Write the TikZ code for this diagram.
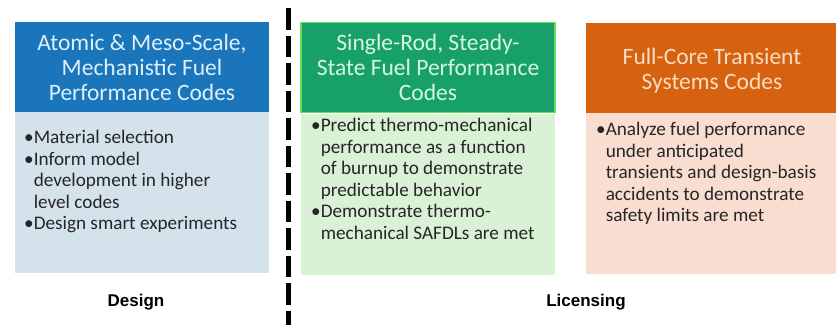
\documentclass[tikz,border=0pt]{standalone}
\usepackage{fontspec}
\setmainfont{Carlito}
\newfontfamily\labfont{Liberation Sans}
\definecolor{hblue}{HTML}{1B75BA}
\definecolor{bblue}{HTML}{D4E3EB}
\definecolor{tblue}{HTML}{DDF0FC}
\definecolor{hgreen}{HTML}{17A06A}
\definecolor{bgreen}{HTML}{D9F1D4}
\definecolor{tgreen}{HTML}{D6F6E4}
\definecolor{lgreen}{HTML}{66DD55}
\definecolor{horange}{HTML}{D6620F}
\definecolor{borange}{HTML}{F9DDD1}
\definecolor{torange}{HTML}{FADCC4}
\definecolor{btext}{HTML}{262626}
\tikzset{
  headbox/.style={rectangle, inner sep=0pt, minimum width=#1, minimum height=90pt, align=center, font=\fontsize{23.5}{25}\selectfont},
  bodybox/.style={rectangle, inner sep=0pt, minimum width=#1, minimum height=161pt},
  bodytext/.style={anchor=north west, inner sep=0pt, align=left, text=btext, font=\fontsize{19.2}{21.5}\selectfont},
  sidelabel/.style={font=\labfont\bfseries\fontsize{17}{20}\selectfont, text=black}
}
\newcommand{\hang}{\phantom{•}}
\begin{document}
\begin{tikzpicture}[x=1pt,y=-1pt]
\useasboundingbox (0,0) rectangle (836,325);
\fill[white] (0,0) rectangle (836,325);

% box 1
\node[headbox=254pt, fill=hblue, text=tblue] (h1) at (142,67) {Atomic \& Meso-Scale,\\Mechanistic Fuel\\Performance Codes};
\node[bodybox=254pt, fill=bblue, anchor=north] (b1) at (h1.south) {};
\node[bodytext] (t1) at (24,130) {•Material selection\\•Inform model\\\hang development in higher\\\hang level codes\\•Design smart experiments};

% box 2
\node[headbox=254pt, fill=hgreen, text=tgreen, draw=lgreen, line width=1.5pt] (h2) at (428,67.5) {Single-Rod, Steady-\\State Fuel Performance\\Codes};
\node[bodybox=254pt, fill=bgreen, anchor=north] (b2) at ([yshift=-0.75pt]h2.south) {};
\node[bodytext] (t2) at (311,118) {•Predict thermo-mechanical\\\hang performance as a function\\\hang of burnup to demonstrate\\\hang predictable behavior\\•Demonstrate thermo-\\\hang mechanical SAFDLs are met};

% box 3
\node[headbox=252pt, fill=horange] (h3) at (712,67.5) {};
\node[headbox=252pt, minimum height=0pt, text=torange] (h3t) at (712,71) {Full-Core Transient\\Systems Codes};
\node[bodybox=252pt, fill=borange, anchor=north] (b3) at (h3.south) {};
\node[bodytext] (t3) at (596,122) {•Analyze fuel performance\\\hang under anticipated\\\hang transients and design-basis\\\hang accidents to demonstrate\\\hang safety limits are met};

% divider
\coordinate (dtop) at (288,8);
\coordinate (dbot) at (288,325);
\draw[line width=5pt, dash pattern=on 21.5pt off 6pt] (dtop) -- (dbot);

% labels
\node[sidelabel] (design) at (136,302) {Design};
\node[sidelabel] (lic) at (586,302) {Licensing};
\end{tikzpicture}
\end{document}
